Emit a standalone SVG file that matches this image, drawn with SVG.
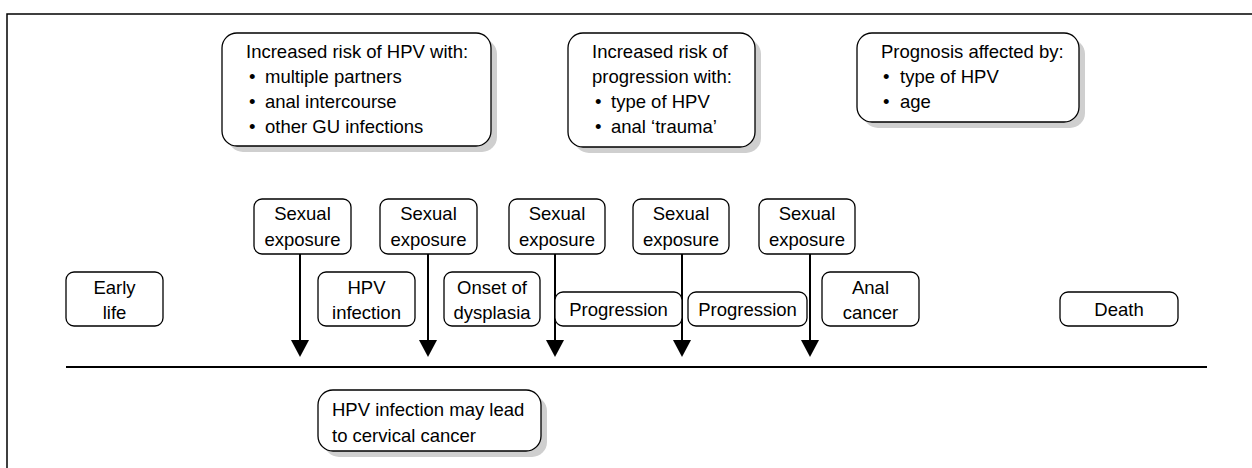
<svg xmlns="http://www.w3.org/2000/svg" width="1252" height="468" viewBox="0 0 1252 468">
<style>
  text { font-family: "Liberation Sans", Arial, sans-serif; font-size: 18.5px; fill: #000; }
  .c { text-anchor: middle; }
  .box { fill: #fff; stroke: #000; stroke-width: 1.3; }
  .shadow { fill: #cfcfcf; stroke: none; }
  .frame { fill: none; stroke: #000; stroke-width: 1.5; }
  .line { stroke: #000; stroke-width: 2; fill: none; }
  .head { fill: #000; stroke: none; }
</style>
<rect width="1252" height="468" fill="#fff"/>
<rect class="frame" x="7" y="14" width="1300" height="500"/>

<g id="risk-hpv">
  <rect class="shadow" x="228" y="39" width="269" height="113" rx="15"/>
  <rect class="box" x="222" y="33" width="269" height="113" rx="15"/>
  <text x="246" y="58">Increased risk of HPV with:</text>
  <text x="249" y="83">•</text><text x="265" y="83">multiple partners</text>
  <text x="249" y="108">•</text><text x="265" y="108">anal intercourse</text>
  <text x="249" y="133">•</text><text x="265" y="133">other GU infections</text>
</g>
<g id="risk-progression">
  <rect class="shadow" x="574" y="39" width="187" height="114" rx="15"/>
  <rect class="box" x="568" y="33" width="187" height="114" rx="15"/>
  <text x="592" y="58">Increased risk of</text>
  <text x="592" y="83">progression with:</text>
  <text x="595" y="108">•</text><text x="611" y="108">type of HPV</text>
  <text x="595" y="133">•</text><text x="611" y="133">anal ‘trauma’</text>
</g>
<g id="prognosis">
  <rect class="shadow" x="863" y="39" width="222" height="89" rx="15"/>
  <rect class="box" x="857" y="33" width="222" height="89" rx="15"/>
  <text x="881" y="58">Prognosis affected by:</text>
  <text x="883" y="83">•</text><text x="900" y="83">type of HPV</text>
  <text x="883" y="108">•</text><text x="900" y="108">age</text>
</g>

<g id="connectors">
  <line class="line" x1="66" y1="367" x2="1207" y2="367"/>
  <line class="line" x1="300" y1="254" x2="300" y2="342"/>
  <polygon class="head" points="291,340 309,340 300,357"/>
  <line class="line" x1="428" y1="254" x2="428" y2="342"/>
  <polygon class="head" points="419,340 437,340 428,357"/>
  <line class="line" x1="555" y1="254" x2="555" y2="342"/>
  <polygon class="head" points="546,340 564,340 555,357"/>
  <line class="line" x1="682" y1="254" x2="682" y2="342"/>
  <polygon class="head" points="673,340 691,340 682,357"/>
  <line class="line" x1="810" y1="254" x2="810" y2="342"/>
  <polygon class="head" points="801,340 819,340 810,357"/>
</g>

<g id="sexual-1">
  <rect class="box" x="254" y="199" width="97" height="55" rx="8"/>
  <text class="c" x="302.5" y="220">Sexual</text>
  <text class="c" x="302.5" y="246">exposure</text>
</g>
<g id="sexual-2">
  <rect class="box" x="380" y="199" width="97" height="55" rx="8"/>
  <text class="c" x="428.5" y="220">Sexual</text>
  <text class="c" x="428.5" y="246">exposure</text>
</g>
<g id="sexual-3">
  <rect class="box" x="509" y="199" width="96" height="55" rx="8"/>
  <text class="c" x="557" y="220">Sexual</text>
  <text class="c" x="557" y="246">exposure</text>
</g>
<g id="sexual-4">
  <rect class="box" x="633" y="199" width="96" height="55" rx="8"/>
  <text class="c" x="681" y="220">Sexual</text>
  <text class="c" x="681" y="246">exposure</text>
</g>
<g id="sexual-5">
  <rect class="box" x="759" y="199" width="96" height="55" rx="8"/>
  <text class="c" x="807" y="220">Sexual</text>
  <text class="c" x="807" y="246">exposure</text>
</g>

<g id="early-life">
  <rect class="box" x="66" y="272" width="97" height="54" rx="8"/>
  <text class="c" x="114.5" y="294">Early</text>
  <text class="c" x="114.5" y="319">life</text>
</g>
<g id="hpv-infection">
  <rect class="box" x="318" y="272" width="97" height="54" rx="8"/>
  <text class="c" x="366.5" y="294">HPV</text>
  <text class="c" x="366.5" y="319">infection</text>
</g>
<g id="onset-dysplasia">
  <rect class="box" x="444" y="272" width="96" height="54" rx="8"/>
  <text class="c" x="492" y="294">Onset of</text>
  <text class="c" x="492" y="319">dysplasia</text>
</g>
<g id="progression-1">
  <rect class="box" x="555" y="292" width="127" height="34" rx="8"/>
  <text class="c" x="618.5" y="316">Progression</text>
</g>
<g id="progression-2">
  <rect class="box" x="688" y="292" width="119" height="34" rx="8"/>
  <text class="c" x="747.5" y="316">Progression</text>
</g>
<g id="anal-cancer">
  <rect class="box" x="822" y="272" width="97" height="54" rx="8"/>
  <text class="c" x="870.5" y="294">Anal</text>
  <text class="c" x="870.5" y="319">cancer</text>
</g>
<g id="death">
  <rect class="box" x="1060" y="292" width="118" height="34" rx="8"/>
  <text class="c" x="1119" y="316">Death</text>
</g>

<g id="cervical-cancer">
  <rect class="shadow" x="324" y="396" width="223" height="61" rx="15"/>
  <rect class="box" x="318" y="390" width="223" height="61" rx="15"/>
  <text x="332" y="416">HPV infection may lead</text>
  <text x="332" y="442">to cervical cancer</text>
</g>
</svg>
